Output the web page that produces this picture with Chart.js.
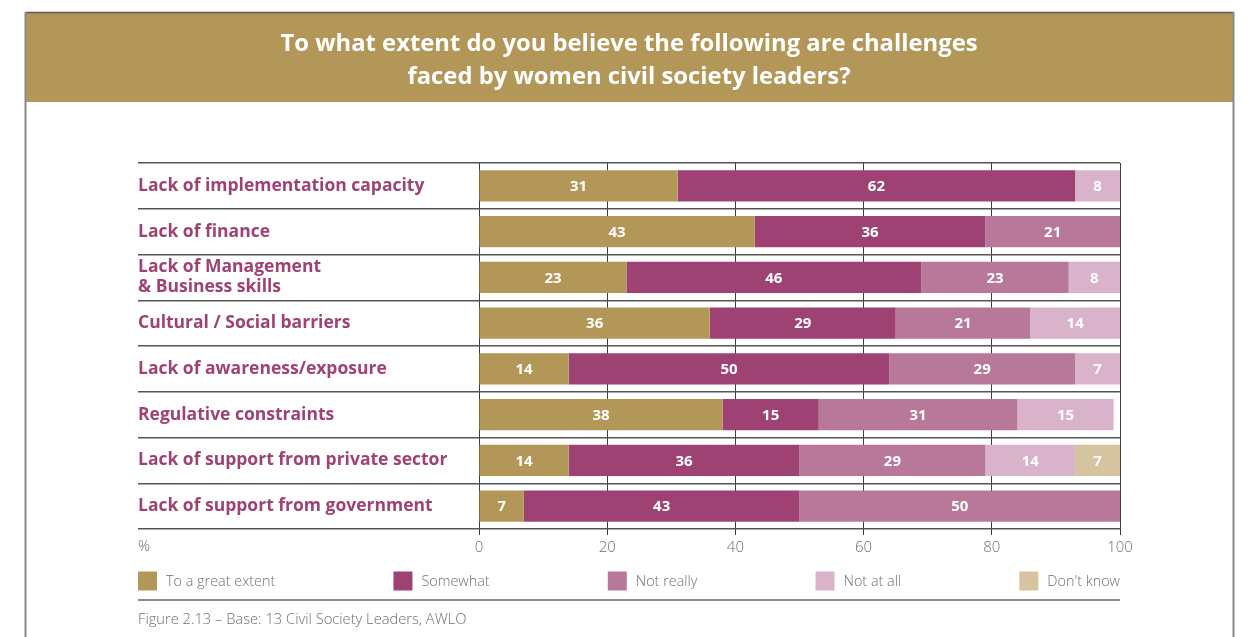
<!DOCTYPE html>
<html>
<head>
<meta charset="utf-8">
<script src="https://cdn.jsdelivr.net/npm/chart.js@4/dist/chart.umd.min.js"></script>
<style>
  html, body { margin: 0; padding: 0; background: #fff; }
  canvas { display: block; }
</style>
</head>
<body>
<canvas id="c" width="1255" height="637"></canvas>
<script>
// Challenges faced by women civil society leaders (% of respondents)
const categories = [
  'Lack of implementation capacity',
  'Lack of finance',
  ['Lack of Management', '& Business skills'],
  'Cultural / Social barriers',
  'Lack of awareness/exposure',
  'Regulative constraints',
  'Lack of support from private sector',
  'Lack of support from government'
];
const greatExtent = [31, 43, 23, 36, 14, 38, 14, 7];
const somewhat    = [62, 36, 46, 29, 50, 15, 36, 43];
const notReally   = [null, 21, 23, 21, 29, 31, 29, 50];
const notAtAll    = [8, null, 8, 14, 7, 15, 14, null];
const dontKnow    = [null, null, null, null, null, null, 7, null];
const xTicks = [0, 20, 40, 60, 80, 100];

const FONT = "'Open Sans', 'Noto Sans', sans-serif";
const GOLD = '#B39759';
const PURPLE = '#9E4273';
const TEXT_GREY = '#6f6f6f';

// page frame and gold header band
const framePlugin = {
  id: 'frame',
  beforeDraw(chart) {
    const ctx = chart.ctx;
    ctx.save();
    ctx.fillStyle = '#fff';
    ctx.fillRect(0, 0, chart.width, chart.height);
    ctx.fillStyle = GOLD;
    ctx.fillRect(26, 13, 1207, 89);
    ctx.strokeStyle = '#5a5a5a';
    ctx.lineWidth = 1.5;
    ctx.beginPath();
    ctx.moveTo(25, 12.5); ctx.lineTo(1233.5, 12.5);
    ctx.stroke();
    ctx.strokeStyle = '#8a8a8a';
    ctx.lineWidth = 2;
    ctx.beginPath();
    ctx.moveTo(25.5, 12); ctx.lineTo(25.5, 637);
    ctx.moveTo(1233.5, 12); ctx.lineTo(1233.5, 637);
    ctx.stroke();
    ctx.restore();
  }
};

// value labels, "%" unit, legend row, footer rule and caption
const overlayPlugin = {
  id: 'overlay',
  afterDraw(chart) {
    const ctx = chart.ctx;
    const area = chart.chartArea;
    ctx.save();

    // segment values
    ctx.fillStyle = '#fff';
    ctx.font = `bold 15px ${FONT}`;
    ctx.textAlign = 'center';
    ctx.textBaseline = 'middle';
    chart.data.datasets.forEach((ds, di) => {
      const meta = chart.getDatasetMeta(di);
      meta.data.forEach((bar, i) => {
        const v = ds.data[i];
        if (v === null || v === undefined) return;
        const right = Math.min(bar.x, area.right);
        const cx = (right + bar.base) / 2;
        ctx.fillText(String(v), cx, bar.y + 1);
      });
    });

    // unit label under the category column
    const yScale = chart.scales.y;
    ctx.fillStyle = TEXT_GREY;
    ctx.font = `300 15px ${FONT}`;
    ctx.textAlign = 'left';
    ctx.fillText('%', yScale.left, 547);

    // legend, spread across the full width of the table
    const left = yScale.left, right = area.right;
    const box = 19, gapText = 9;
    ctx.font = `300 14.4px ${FONT}`;
    const items = chart.data.datasets.map(ds => ({
      label: ds.label, color: ds.backgroundColor,
      w: box + gapText + ctx.measureText(ds.label).width
    }));
    const total = items.reduce((s, it) => s + it.w, 0);
    const gap = (right - left - total) / (items.length - 1);
    let x = left;
    const ly = 581;
    items.forEach(it => {
      ctx.fillStyle = it.color;
      ctx.fillRect(x, ly - box / 2, box, box);
      ctx.fillStyle = TEXT_GREY;
      ctx.textAlign = 'left';
      ctx.fillText(it.label, x + box + gapText, ly + 1);
      x += it.w + gap;
    });

    // footer rule and caption
    ctx.strokeStyle = '#8c8c8c';
    ctx.lineWidth = 2;
    ctx.beginPath();
    ctx.moveTo(left, 600); ctx.lineTo(right, 600);
    ctx.stroke();
    ctx.fillStyle = TEXT_GREY;
    ctx.font = `300 14.7px ${FONT}`;
    ctx.fillText('Figure 2.13 \u2013 Base: 13 Civil Society Leaders, AWLO', left, 620);

    ctx.restore();
  }
};

const mk = (label, data, color) => ({
  label, data, backgroundColor: color, borderWidth: 0,
  barPercentage: 1, categoryPercentage: 0.68
});

new Chart(document.getElementById('c'), {
  type: 'bar',
  data: {
    labels: categories,
    datasets: [
      mk('To a great extent', greatExtent, GOLD),
      mk('Somewhat', somewhat, PURPLE),
      mk('Not really', notReally, '#B87899'),
      mk('Not at all', notAtAll, '#D9B3C9'),
      mk("Don't know", dontKnow, '#D5C49F')
    ]
  },
  options: {
    indexAxis: 'y',
    responsive: false,
    animation: false,
    devicePixelRatio: 1,
    layout: { padding: { left: 138, right: 135, top: 0, bottom: 76 } },
    plugins: {
      legend: { display: false },
      tooltip: { enabled: false },
      title: {
        display: true,
        text: ['To what extent do you believe the following are challenges',
               'faced by women civil society leaders?'],
        color: '#fff',
        font: { family: FONT, size: 23.8, weight: 'bold', lineHeight: 33 / 23.8 },
        padding: { top: 27.5, bottom: 69.5 }
      }
    },
    scales: {
      x: {
        type: 'linear',
        stacked: true,
        min: 0,
        max: 100,
        z: 1,
        afterBuildTicks(scale) { scale.ticks = xTicks.map(v => ({ value: v })); },
        ticks: { color: TEXT_GREY, font: { family: FONT, size: 15, weight: '300' }, padding: 4 },
        grid: { color: '#3c3c3c', lineWidth: 1, tickLength: 6 },
        border: { display: false }
      },
      y: {
        stacked: true,
        afterFit(scale) { scale.width = 341; },
        ticks: {
          crossAlign: 'far',
          color: PURPLE,
          font: { family: FONT, size: 17.5, weight: 'bold', lineHeight: 1.15 }
        },
        grid: { offset: true, color: '#555', lineWidth: 1.5, tickLength: 341 },
        border: { display: false }
      }
    }
  },
  plugins: [framePlugin, overlayPlugin]
});
</script>
</body>
</html>
